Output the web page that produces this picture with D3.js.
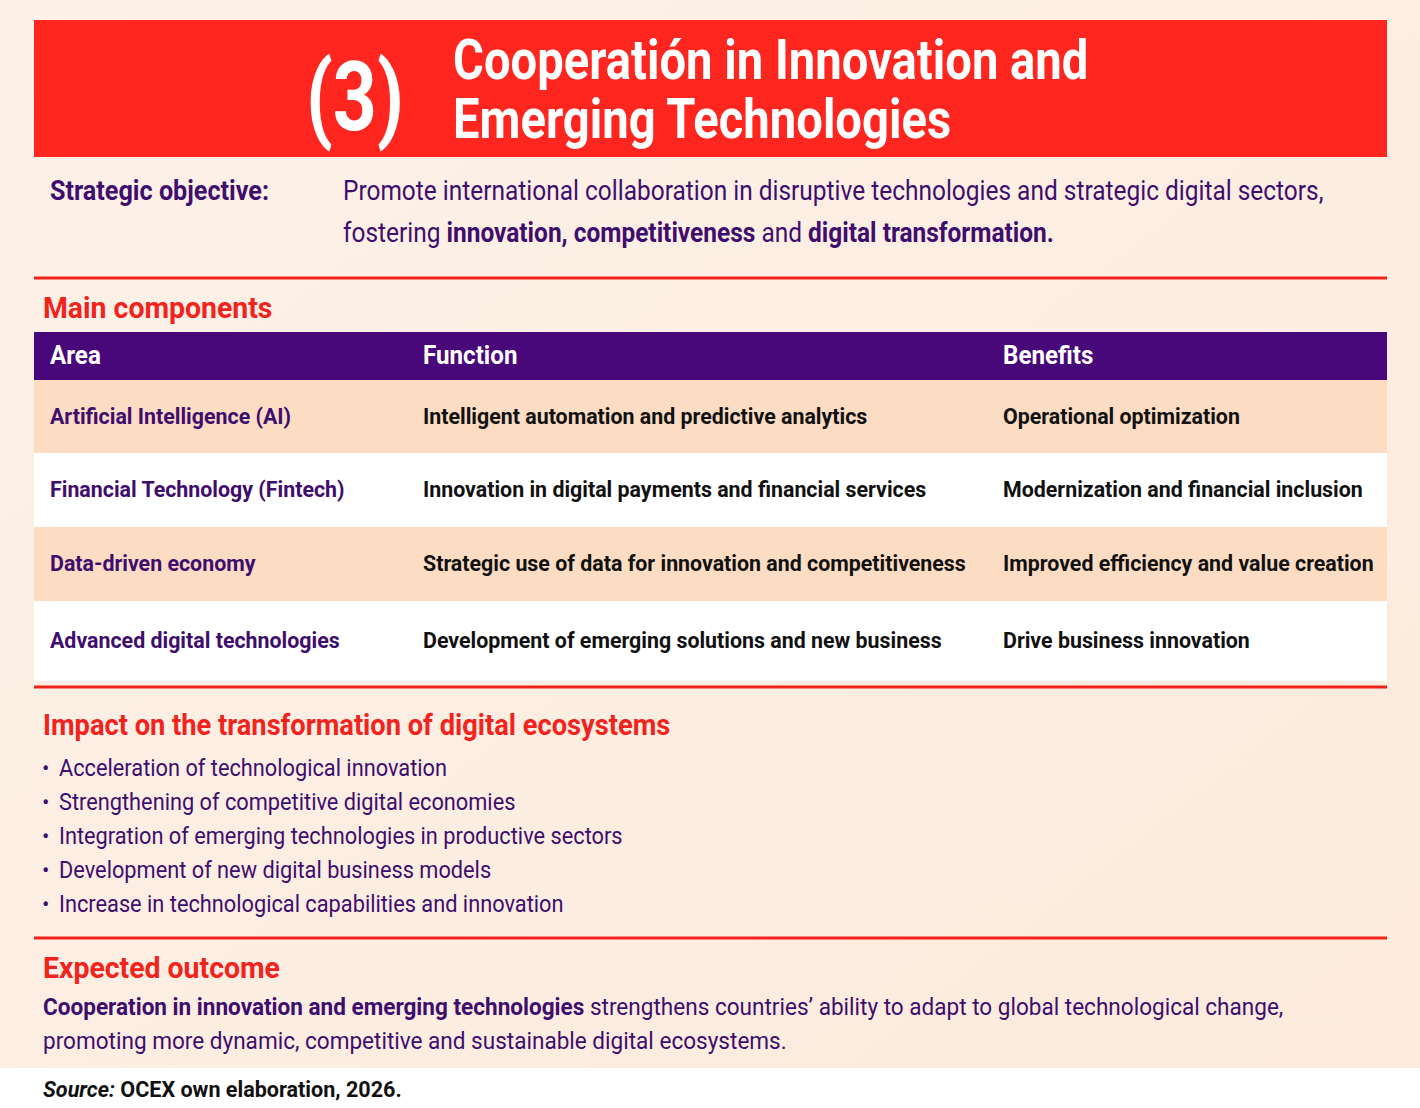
<!DOCTYPE html>
<html><head><meta charset="utf-8">
<script src="https://cdn.jsdelivr.net/npm/d3@7"></script>
<style>body{margin:0;background:#fdf0e6}svg{display:block}</style>
</head><body><svg id="c" width="1420" height="1108"></svg>
<script>
const titleNum = "(3)";
const titleLines = ["Cooperatión in Innovation and", "Emerging Technologies"];
const objectiveLabel = "Strategic objective:";
const objectiveLines = [
  [["Promote international collaboration in disruptive technologies and strategic digital sectors,", false]],
  [["fostering ", false], ["innovation, competitiveness", true], [" and ", false], ["digital transformation.", true]]
];
const tableHeaders = ["Area", "Function", "Benefits"];
const areas = ["Artificial Intelligence (AI)", "Financial Technology (Fintech)", "Data-driven economy", "Advanced digital technologies"];
const functions = ["Intelligent automation and predictive analytics", "Innovation in digital payments and financial services", "Strategic use of data for innovation and competitiveness", "Development of emerging solutions and new business"];
const benefits = ["Operational optimization", "Modernization and financial inclusion", "Improved efficiency and value creation", "Drive business innovation"];
const impacts = ["Acceleration of technological innovation", "Strengthening of competitive digital economies", "Integration of emerging technologies in productive sectors", "Development of new digital business models", "Increase in technological capabilities and innovation"];
const outcomeLines = [
  [["Cooperation in innovation and emerging technologies", true], [" strengthens countries’ ability to adapt to global technological change,", false]],
  [["promoting more dynamic, competitive and sustainable digital ecosystems.", false]]
];

const svg = d3.select("#c");
const PURPLE = "#3f0d6e", RED = "#f2231d";
const defs = svg.append("defs");
const g = defs.append("linearGradient").attr("id","bg").attr("x1",0).attr("x2",1).attr("y1",0).attr("y2",1);
g.append("stop").attr("offset",0).attr("stop-color","#fdf1e8");
g.append("stop").attr("offset",1).attr("stop-color","#fcebdc");
svg.append("rect").attr("width",1420).attr("height",1108).attr("fill","url(#bg)");

function txt(x, y, parts, size, color, weight, sx) {
  if (typeof parts === "string") parts = [[parts, weight === "bold"]];
  const t = svg.append("text").attr("transform", `translate(${x},${y}) scale(${sx},1)`)
    .attr("font-family","Roboto").attr("font-size",size).attr("fill",color);
  parts.forEach(([s,b]) => t.append("tspan").text(s).attr("font-weight", b ? "bold" : "normal"));
  return t;
}
// header
svg.append("rect").attr("x",34).attr("y",20).attr("width",1353).attr("height",137).attr("fill","#ff2620");
txt(306,130,titleNum,96,"#fff","bold",0.8).attr("font-weight","900");
txt(453,79,titleLines[0],56,"#fff","bold",0.843);
txt(453,138,titleLines[1],56,"#fff","bold",0.843);
// objective
txt(50,200,objectiveLabel,28,PURPLE,"bold",0.9);
objectiveLines.forEach((l,i)=>txt(343,200+i*42,l,27,PURPLE,"normal",0.906));
const hr = y => svg.append("rect").attr("x",34).attr("y",y-1.5).attr("width",1353).attr("height",3).attr("fill",RED);
hr(278);
txt(43,318,"Main components",29,RED,"bold",0.98);
// table
const cols = [50,423,1003];
svg.append("rect").attr("x",34).attr("y",332).attr("width",1353).attr("height",48).attr("fill","#48087a");
tableHeaders.forEach((h,i)=>txt(cols[i],364,h,26,"#fff","bold",0.93));
const rowY = [380,453,527,601];
const rowH = [73,74,74,80];
areas.forEach((a,i)=>{
  svg.append("rect").attr("x",34).attr("y",rowY[i]).attr("width",1353).attr("height",rowH[i])
    .attr("fill", i%2===0 ? "#fcdcc2" : "#ffffff");
  const by = rowY[i]+rowH[i]/2+7;
  txt(cols[0],by,a,23,PURPLE,"bold",0.93);
  txt(cols[1],by,functions[i],23,"#111","bold",0.93);
  txt(cols[2],by,benefits[i],23,"#111","bold",0.93);
});
hr(687);
txt(43,735,"Impact on the transformation of digital ecosystems",29,RED,"bold",0.94);
impacts.forEach((s,i)=>{
  txt(42,776+i*34,"•",22,PURPLE,"normal",1);
  txt(59,776+i*34,s,24,PURPLE,"normal",0.907);
});
hr(938);
txt(43,978,"Expected outcome",29,RED,"bold",0.98);
outcomeLines.forEach((l,i)=>txt(43,1015+i*34,l,24,PURPLE,"normal",0.94));
svg.append("rect").attr("x",0).attr("y",1068).attr("width",1420).attr("height",40).attr("fill","#fff");
const src = txt(43,1097,[["Source:",true],[" OCEX own elaboration, 2026.",true]],22,"#111","normal",0.98);
src.select("tspan").attr("font-style","italic");
</script></body></html>
